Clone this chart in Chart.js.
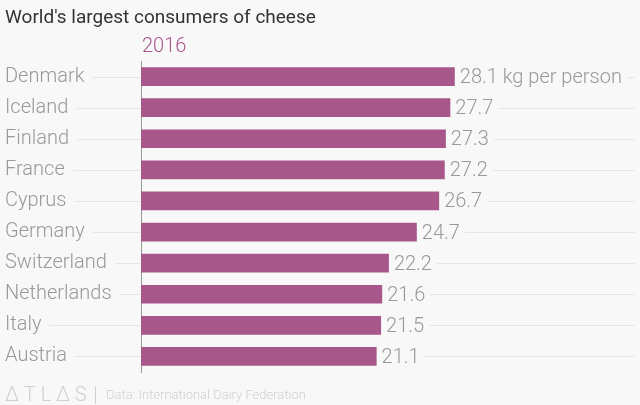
<!DOCTYPE html>
<html>
<head>
<meta charset="utf-8">
<script src="https://cdn.jsdelivr.net/npm/chart.js@4"></script>
<style>
  html, body { margin: 0; padding: 0; background: #f8f8f8; }
  #wrap { width: 640px; height: 405px; position: relative; }
</style>
</head>
<body>
<div id="wrap"><canvas id="chart" width="640" height="405"></canvas></div>
<script>
const countries = ["Denmark", "Iceland", "Finland", "France", "Cyprus", "Germany", "Switzerland", "Netherlands", "Italy", "Austria"];
const consumption = [28.1, 27.7, 27.3, 27.2, 26.7, 24.7, 22.2, 21.6, 21.5, 21.1];
const seriesName = "2016";
const unitLabel = " kg per person";
const titleText = "World's largest consumers of cheese";
const sourceText = "Data: International Dairy Federation";

const barColor = "#a8578a";
const labelFont = "300 20px Roboto";

const extras = {
  id: "extras",
  beforeDatasetsDraw(chart) {
    const ctx = chart.ctx;
    const y = chart.scales.y;
    const area = chart.chartArea;
    const meta = chart.getDatasetMeta(0);
    ctx.save();
    ctx.font = labelFont;
    ctx.strokeStyle = "#e6e6e6";
    ctx.lineWidth = 1;
    countries.forEach((c, i) => {
      const py = Math.round(y.getPixelForTick(i)) + 0.5;
      const lw = ctx.measureText(c).width;
      ctx.beginPath();
      ctx.moveTo(5 + lw + 8, py);
      ctx.lineTo(area.left, py);
      const txt = consumption[i] + (i === 0 ? unitLabel : "");
      const vx = meta.data[i].x + 5 + ctx.measureText(txt).width + 5;
      ctx.moveTo(vx, py);
      ctx.lineTo(635, py);
      ctx.stroke();
    });
    ctx.restore();
  },
  afterDatasetsDraw(chart) {
    const ctx = chart.ctx;
    const meta = chart.getDatasetMeta(0);
    const area = chart.chartArea;
    ctx.save();
    // value labels
    ctx.font = labelFont;
    ctx.fillStyle = "#999";
    ctx.textBaseline = "middle";
    ctx.textAlign = "left";
    meta.data.forEach((bar, i) => {
      const txt = consumption[i] + (i === 0 ? unitLabel : "");
      ctx.fillText(txt, bar.x + 5, bar.y + 1.5);
    });
    // title
    ctx.font = "400 19px Roboto";
    ctx.fillStyle = "#333";
    ctx.textBaseline = "alphabetic";
    ctx.fillText(titleText, 5, 23);
    // series label
    ctx.font = labelFont;
    ctx.fillStyle = barColor;
    ctx.fillText(seriesName, area.left + 1, 52);
    // footer
    ctx.font = "300 20px Roboto";
    ctx.fillStyle = "#d0d0d0";
    ctx.fillText("\u0394 T L \u0394 S", 5, 401);
    ctx.fillRect(95, 386, 1, 18);
    ctx.font = "300 13px Roboto";
    ctx.fillText(sourceText, 106, 399);
    ctx.restore();
  }
};

new Chart(document.getElementById("chart"), {
  type: "bar",
  data: {
    labels: countries,
    datasets: [{
      label: seriesName,
      data: consumption,
      backgroundColor: barColor,
      borderWidth: 0,
      categoryPercentage: 1,
      barPercentage: 0.6
    }]
  },
  options: {
    indexAxis: "y",
    responsive: false,
    animation: false,
    layout: { padding: { left: 5, right: 164, top: 61, bottom: 33 } },
    plugins: { legend: { display: false }, tooltip: { enabled: false } },
    scales: {
      x: { display: false, min: 0, max: 30 },
      y: {
        afterFit(scale) { scale.width = 136; },
        grid: { display: false, drawTicks: false },
        border: { display: true, color: "#999", width: 1 },
        ticks: {
          crossAlign: "far",
          padding: 0,
          color: "#999",
          font: { family: "Roboto", size: 20, weight: 300 }
        }
      }
    }
  },
  plugins: [extras]
});
</script>
</body>
</html>
